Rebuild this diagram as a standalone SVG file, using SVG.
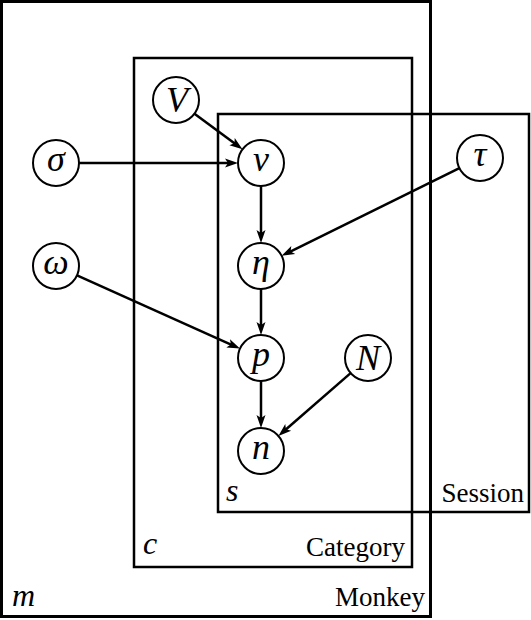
<svg xmlns="http://www.w3.org/2000/svg" width="531" height="620" viewBox="0 0 531 620">
<style>
.plate{fill:none;stroke:#000;stroke-width:2.5}
.outer{fill:none;stroke:#000;stroke-width:3}
.node circle{fill:#fff;stroke:#000;stroke-width:2}
.edge{fill:none;stroke:#000;stroke-width:2.5}
.lbl{font-family:'Liberation Serif',serif;font-size:27px;text-anchor:end}
.idx{font-family:'Liberation Serif',serif;font-size:32px;font-style:italic}
.var{font-family:'Liberation Serif',serif;font-size:36px;font-style:italic;text-anchor:middle}
</style>
<defs>
<path id="ah" d="M0,0 L-13,-4.5 L-10,0 L-13,4.5 z" fill="#000"/>
</defs>
<rect width="531" height="620" fill="#fff"/>
<g id="plates">
<rect id="monkey" class="outer" x="1.5" y="1.5" width="429" height="615"/>
<rect id="category" class="plate" x="134" y="58" width="278" height="509"/>
<rect id="session" class="plate" x="218" y="114" width="311" height="398"/>
<text class="idx" x="12" y="606">m</text>
<text class="lbl" x="425" y="606">Monkey</text>
<text class="idx" x="143" y="554">c</text>
<text class="lbl" x="405" y="556">Category</text>
<text class="idx" x="226" y="501">s</text>
<text class="lbl" x="524" y="502">Session</text>
</g>
<g id="connectors">
<line class="edge" x1="79" y1="163" x2="230" y2="163"/>
<use href="#ah" transform="translate(238,163)"/>
<line class="edge" x1="194.5" y1="113.7" x2="236.1" y2="144.5"/>
<use href="#ah" transform="translate(242.5,149.3) rotate(36.5)"/>
<line class="edge" x1="261" y1="186" x2="261" y2="235"/>
<use href="#ah" transform="translate(261,243) rotate(90)"/>
<line class="edge" x1="261" y1="289" x2="261" y2="327"/>
<use href="#ah" transform="translate(261,335) rotate(90)"/>
<line class="edge" x1="261" y1="381" x2="261" y2="420"/>
<use href="#ah" transform="translate(261,428) rotate(90)"/>
<line class="edge" x1="77" y1="275.4" x2="232.7" y2="345.3"/>
<use href="#ah" transform="translate(240,348.6) rotate(24.2)"/>
<line class="edge" x1="459.4" y1="168.2" x2="288.8" y2="252.3"/>
<use href="#ah" transform="translate(281.6,255.8) rotate(153.8)"/>
<line class="edge" x1="350.6" y1="373.1" x2="284.4" y2="430.7"/>
<use href="#ah" transform="translate(278.4,435.9) rotate(139)"/>
</g>
<g id="node-V" class="node"><circle cx="176" cy="100" r="23"/><text class="var" x="177" y="112">V</text></g>
<g id="node-sigma" class="node"><circle cx="56" cy="163" r="23"/><text class="var" x="56" y="171">σ</text></g>
<g id="node-v" class="node"><circle cx="261" cy="163" r="23"/><text class="var" x="261" y="171">v</text></g>
<g id="node-tau" class="node"><circle cx="480" cy="158" r="23"/><text class="var" x="480" y="166">τ</text></g>
<g id="node-omega" class="node"><circle cx="56" cy="266" r="23"/><text class="var" x="56" y="274">ω</text></g>
<g id="node-eta" class="node"><circle cx="261" cy="266" r="23"/><text class="var" x="261" y="274">η</text></g>
<g id="node-p" class="node"><circle cx="261" cy="358" r="23"/><text class="var" x="261" y="366">p</text></g>
<g id="node-N" class="node"><circle cx="368" cy="358" r="23"/><text class="var" x="368" y="370">N</text></g>
<g id="node-n" class="node"><circle cx="261" cy="451" r="23"/><text class="var" x="261" y="459">n</text></g>
</svg>
